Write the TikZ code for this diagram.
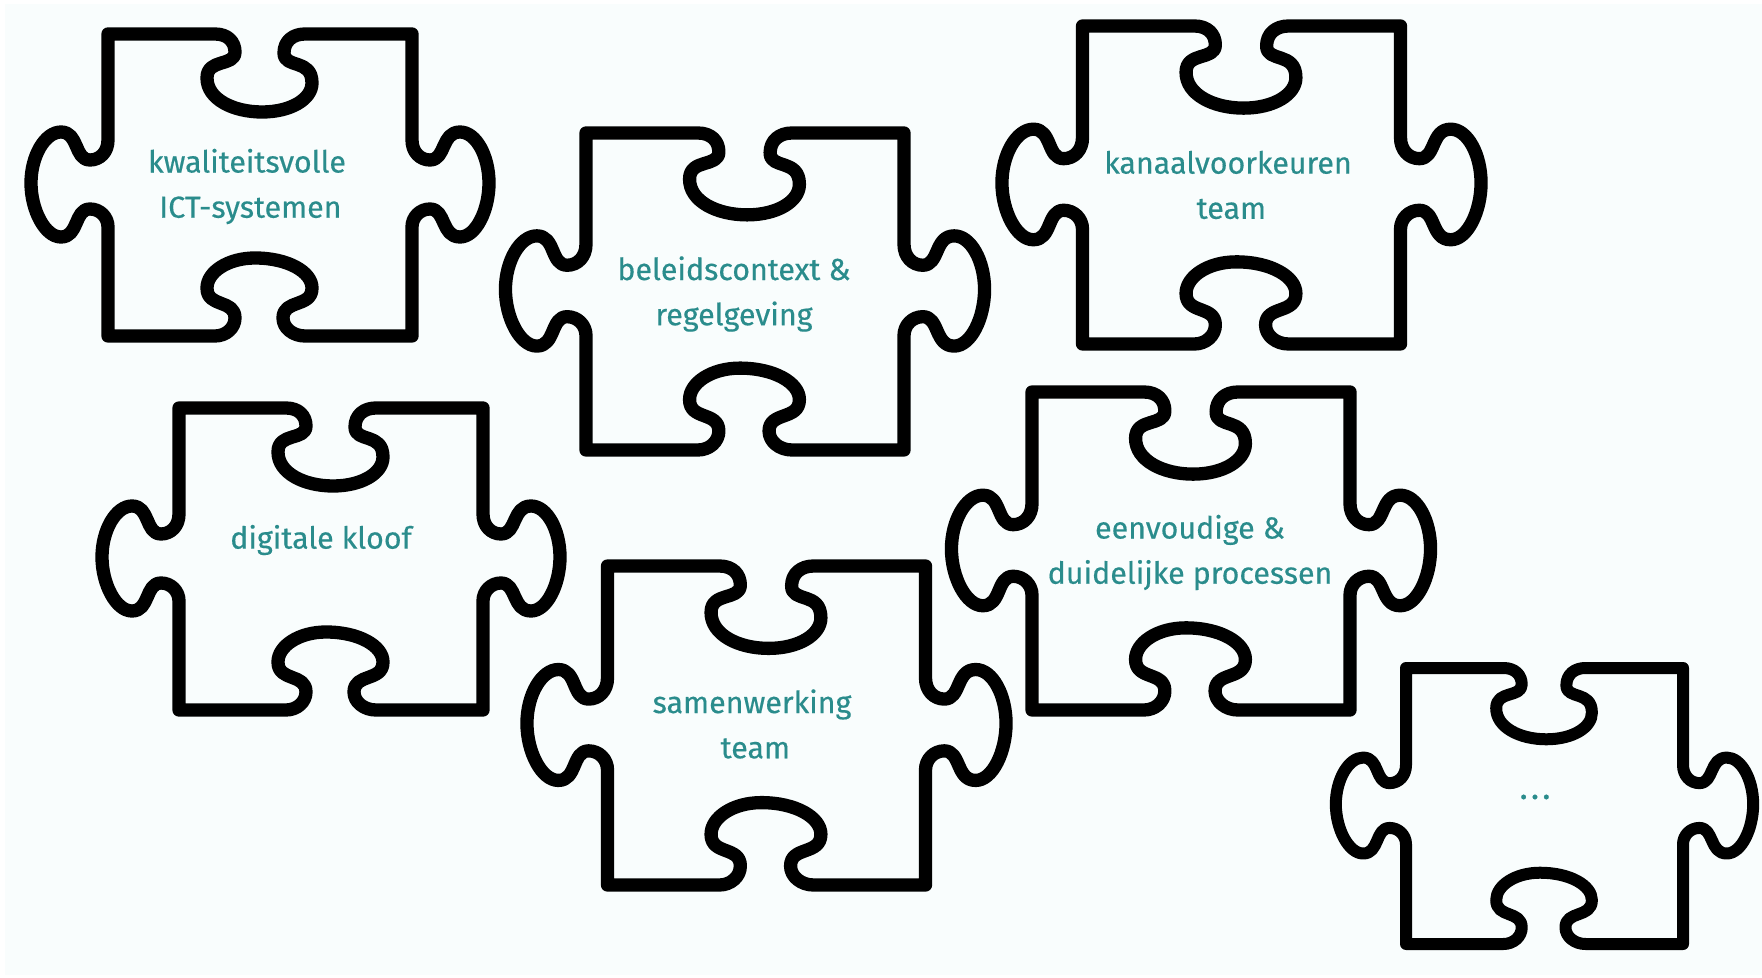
\documentclass[tikz,border=0pt]{standalone}
\usepackage{fontspec}
\setmainfont{Fira Sans}[FakeBold=0.4]
\definecolor{bgc}{HTML}{F9FDFD}
\definecolor{txt}{HTML}{2A8C8C}
\tikzset{
  piecestyle/.style={draw=black,line width=#1,line join=round},
  piecestyle/.default=6.5pt,
  label/.style={text=txt,font=\fontsize{15.2pt}{22.6pt}\selectfont,align=center,inner sep=0pt,anchor=center}
}
% x y w h linewidth (px)
\newcommand{\puzzle}[5]{%
\pgfmathsetmacro{\sx}{#3/304}\pgfmathsetmacro{\sy}{#4/302}%
\begin{scope}[shift={(#1,-#2)},xscale=\sx,yscale=-\sy]
\draw[piecestyle=#5*0.5pt] (0,0) -- (107,0)
 .. controls (120,0) and (127,8) .. (127,18)
 .. controls (127,33) and (99,24) .. (99,44)
 .. controls (99,65) and (125,78) .. (154,78)
 .. controls (183,78) and (204,65) .. (204,49)
 .. controls (204,24) and (176,35) .. (176,19)
 .. controls (176,7) and (185,0) .. (197,0)
 -- (304,0) -- (304,106)
 .. controls (304,118) and (312,126) .. (322,126)
 .. controls (338,126) and (333,98) .. (352,98)
 .. controls (368,98) and (381,122) .. (381,149)
 .. controls (381,176) and (368,203) .. (352,203)
 .. controls (333,203) and (338,175) .. (322,175)
 .. controls (312,175) and (304,183) .. (304,193)
 -- (304,302) -- (197,302)
 .. controls (185,302) and (175,294) .. (175,284)
 .. controls (175,265) and (204,274) .. (204,254)
 .. controls (204,238) and (180,224) .. (147,224)
 .. controls (120,224) and (99,238) .. (99,254)
 .. controls (99,274) and (127,265) .. (127,284)
 .. controls (127,294) and (118,302) .. (107,302)
 -- (0,302) -- (0,193)
 .. controls (0,183) and (-8,175) .. (-18,175)
 .. controls (-34,175) and (-29,203) .. (-47,203)
 .. controls (-63,203) and (-77,176) .. (-77,149)
 .. controls (-77,122) and (-63,98) .. (-47,98)
 .. controls (-29,98) and (-34,126) .. (-18,126)
 .. controls (-8,126) and (0,118) .. (0,106)
 -- cycle;
\end{scope}}
\begin{document}
\begin{tikzpicture}[x=0.5pt,y=0.5pt]
\useasboundingbox (0,0) rectangle (1762,-978);
\fill[white] (0,0) rectangle (1762,-978);
\fill[bgc] (5,-4) rectangle (1762,-975);
\puzzle{108}{34}{304}{302}{13.3}
\puzzle{586}{133}{318}{317}{13.3}
\puzzle{1082.5}{26}{318}{318}{13.3}
\puzzle{179}{408}{304}{302}{13.3}
\puzzle{607.5}{566}{318}{319}{13.3}
\puzzle{1032}{392}{318}{318}{13.3}
\puzzle{1406}{668}{277}{276}{12}
\node[label] (kwal) at (247,-186.5) {kwaliteitsvolle\\\hspace*{3.4pt}ICT-systemen};
\node[label] (beleid) at (734,-294) {beleidscontext \&\\regelgeving};
\node[label] (kanaal) at (1228,-185) {kanaalvoorkeuren\\\hspace*{3.4pt}team};
\node[label] (digi) at (321,-540) {digitale kloof};
\node[label] (samen) at (752,-724) {samenwerking\\\hspace*{3.4pt}team};
\node[label] (eenv) at (1190,-552.5) {eenvoudige \&\\duidelijke processen};
\node[label,font=\fontsize{17pt}{20pt}\selectfont] (dots) at (1535,-797) {.\hspace{1.6pt}.\hspace{1.6pt}.};
\end{tikzpicture}
\end{document}
